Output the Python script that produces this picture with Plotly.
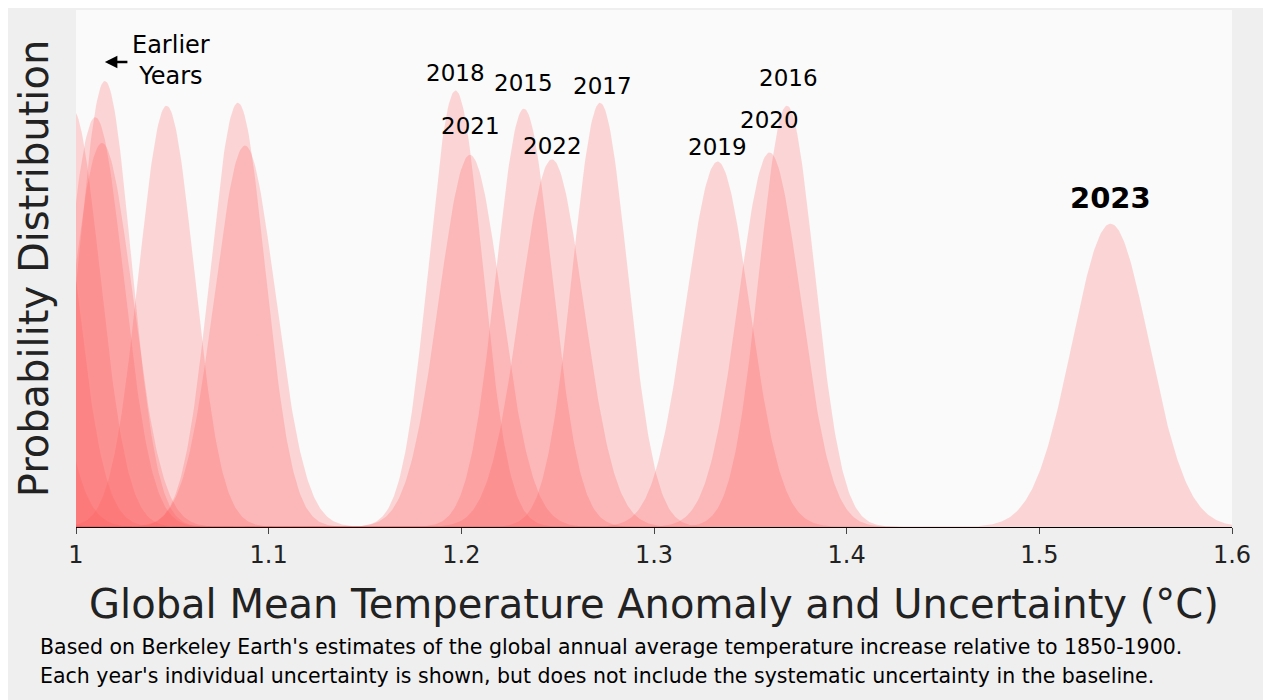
import numpy as np
import plotly.graph_objects as go

# estimated annual anomaly (°C) and 1-sigma uncertainty
years = ["1990s-a", "1990s-b", "1990s-c", "2000s-a", "2000s-b", "2000s-c", "2000s-d",
         "2005", "2010", "2014", "2013", "2012", "2011",
         "2018", "2021", "2015", "2022", "2017", "2019", "2020", "2016", "2023"]
means = [0.88, 0.91, 0.93, 0.95, 0.97, 0.985, 0.998,
         1.010, 1.0135, 1.015, 1.047, 1.084, 1.0877,
         1.197, 1.2045, 1.2325, 1.247, 1.272, 1.333, 1.360, 1.369, 1.537]
sigmas = [0.017, 0.017, 0.016, 0.016, 0.016, 0.015, 0.0145,
          0.0148, 0.0158, 0.0136, 0.0144, 0.0143, 0.0159,
          0.0139, 0.0163, 0.0145, 0.0165, 0.0143, 0.0166, 0.0162, 0.0144, 0.020]

labels = {"2018": (1.197, 29.86), "2015": (1.2325, 29.2), "2017": (1.2735, 29.0),
          "2021": (1.2045, 26.37), "2022": (1.2475, 25.06), "2019": (1.333, 24.99),
          "2020": (1.360, 26.77), "2016": (1.370, 29.53)}

x = np.linspace(0.8, 1.65, 1500)
fig = go.Figure()
for yr, m, s in zip(years, means, sigmas):
    pdf = np.exp(-0.5 * ((x - m) / s) ** 2) / (s * np.sqrt(2 * np.pi))
    fig.add_trace(go.Scatter(x=x, y=pdf, mode="lines", fill="tozeroy", name=yr,
                             line=dict(width=0), fillcolor="rgba(255,90,90,0.23)",
                             showlegend=False, hoverinfo="skip"))

for t, (lx, ly) in labels.items():
    fig.add_annotation(x=lx, y=ly, text=t, showarrow=False,
                       font=dict(size=23, color="black"))
fig.add_annotation(x=1.537, y=21.64, text="<b>2023</b>", showarrow=False,
                   font=dict(size=29, color="black"))
fig.add_annotation(x=1.0495, y=30.65, text="Earlier<br>Years", showarrow=False,
                   font=dict(size=24, color="black"))
fig.add_annotation(x=1.015, y=30.58, ax=24, ay=0, text="", showarrow=True,
                   arrowhead=2, arrowsize=1, arrowwidth=2.5, arrowcolor="black")

fig.add_annotation(xref="paper", yref="paper", x=-0.033, y=-0.232, xanchor="left",
                   yanchor="middle", showarrow=False, align="left",
                   text="Based on Berkeley Earth's estimates of the global annual average temperature increase relative to 1850-1900.",
                   font=dict(size=20.5, color="black"))
fig.add_annotation(xref="paper", yref="paper", x=-0.033, y=-0.288, xanchor="left",
                   yanchor="middle", showarrow=False, align="left",
                   text="Each year's individual uncertainty is shown, but does not include the systematic uncertainty in the baseline.",
                   font=dict(size=20.5, color="black"))

fig.update_layout(
    width=1271, height=700,
    margin=dict(l=68, r=47, t=2, b=181),
    paper_bgcolor="#efefef", plot_bgcolor="#fafafa",
    font=dict(family="DejaVu Sans", color="#222"),
    xaxis=dict(range=[1, 1.6], tickvals=[1, 1.1, 1.2, 1.3, 1.4, 1.5, 1.6],
               ticktext=["1", "1.1", "1.2", "1.3", "1.4", "1.5", "1.6"],
               showgrid=False, zeroline=False, showline=True, linecolor="black",
               ticks="outside", ticklen=6, tickfont=dict(size=24),
               title=dict(text="Global Mean Temperature Anomaly and Uncertainty (°C)",
                          font=dict(size=40), standoff=22)),
    yaxis=dict(range=[0, 34], showgrid=False, zeroline=False, showticklabels=False,
               title=dict(text="Probability Distribution", font=dict(size=40), standoff=14)),
)

fig.write_html("out.html")
